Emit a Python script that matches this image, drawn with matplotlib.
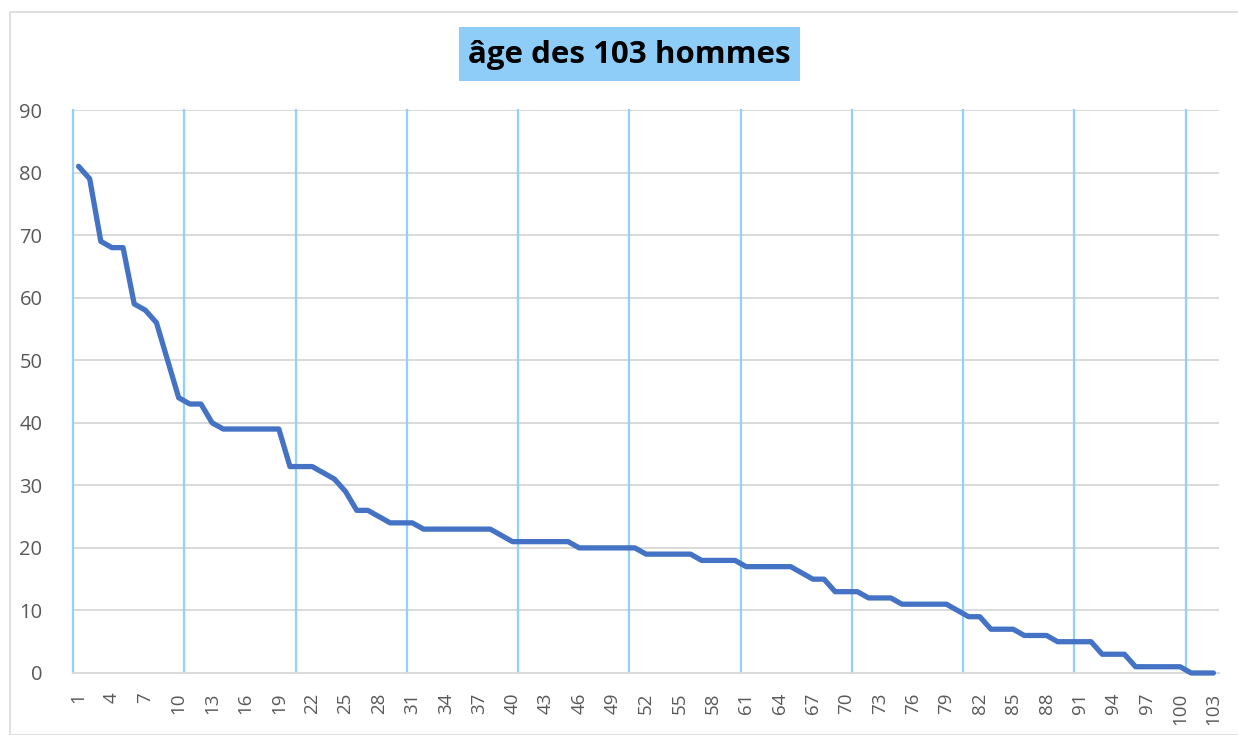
import matplotlib
matplotlib.use("Agg")
import matplotlib.pyplot as plt
from matplotlib.patches import Rectangle
import numpy as np

# ---- data ----
title = "âge des 103 hommes"
ranks = list(range(1, 104))
ages = [81, 79, 69, 68, 68, 59, 58, 56, 50, 44,
        43, 43, 40, 39, 39, 39, 39, 39, 39, 33,
        33, 33, 32, 31, 29, 26, 26, 25, 24, 24,
        24, 23, 23, 23, 23, 23, 23, 23, 22, 21,
        21, 21, 21, 21, 21, 20, 20, 20, 20, 20,
        20, 19, 19, 19, 19, 19, 18, 18, 18, 18,
        17, 17, 17, 17, 17, 16, 15, 15, 13, 13,
        13, 12, 12, 12, 11, 11, 11, 11, 11, 10,
        9, 9, 7, 7, 7, 6, 6, 6, 5, 5,
        5, 5, 3, 3, 3, 1, 1, 1, 1, 1,
        0, 0, 0]
x_tick_labels = [str(v) for v in range(1, 104, 3)]
y_ticks = list(range(0, 100, 10))

W, H = 1238, 735
fig = plt.figure(figsize=(W / 100, H / 100), dpi=100)
fig.patch.set_facecolor("white")

# outer chart border
fig.add_artist(Rectangle((10 / W, 0), 1.2, (H - 12) / H, transform=fig.transFigure,
                         fill=False, edgecolor="#D9D9D9", linewidth=1.2))

left, right, top, bottom = 73, 1219, 110, 673
ax = fig.add_axes([left / W, (H - bottom) / H, (right - left) / W, (bottom - top) / H])

ax.plot(ranks, ages, color="#4472C4", linewidth=3.8, solid_joinstyle="round",
        solid_capstyle="round", zorder=3, clip_on=False)

ax.set_xlim(0.5, 103.5)
ax.set_ylim(0, 90)

# horizontal gridlines
for v in y_ticks[1:]:
    ax.axhline(v, color="#D9D9D9", linewidth=1.4, zorder=1)
# vertical gridlines at category boundaries every 10 categories
for b in np.arange(0.5, 104, 10):
    ax.axvline(b, color="#8FD3FA", linewidth=1.6, zorder=2, clip_on=False)

for s in ["top", "right", "left"]:
    ax.spines[s].set_visible(False)
ax.spines["bottom"].set_color("#D9D9D9")
ax.spines["bottom"].set_linewidth(1.4)
ax.spines["bottom"].set_zorder(2)

ax.set_yticks(y_ticks)
ax.set_yticklabels([str(v) for v in y_ticks])
ax.set_xticks(list(range(1, 104, 3)))
ax.set_xticklabels(x_tick_labels, rotation=90)
ax.tick_params(axis="y", length=0, pad=22, labelsize=14.5, labelcolor="#595959")
ax.tick_params(axis="x", length=0, pad=14, labelsize=13.5, labelcolor="#595959")
for lab in ax.get_xticklabels() + ax.get_yticklabels():
    lab.set_family("Open Sans")

# title with light blue box
fig.add_artist(Rectangle((459 / W, 1 - 81 / H), (800 - 459) / W, 54 / H,
                         transform=fig.transFigure, facecolor="#8ECDF8",
                         edgecolor="none"))
fig.text(629.5 / W, 1 - 55 / H, title, ha="center", va="center",
         fontsize=22.5, fontweight="bold", family="Open Sans", color="black")

fig.savefig("out.png", dpi=100)
